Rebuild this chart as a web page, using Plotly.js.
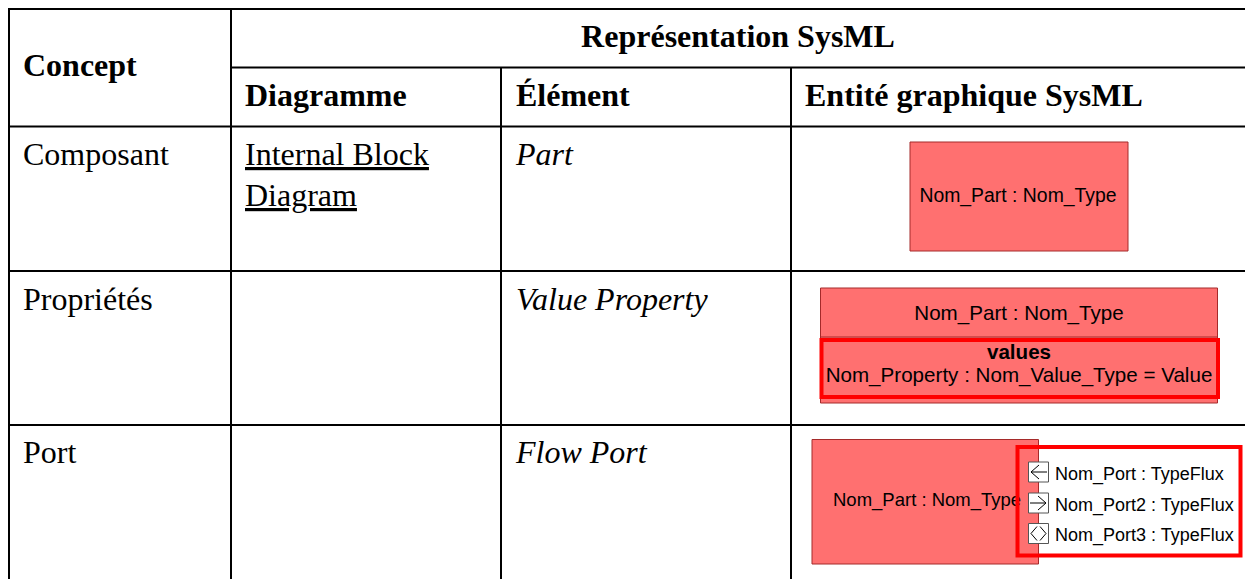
<!DOCTYPE html>
<html>
<head>
<meta charset="utf-8">
<script src="https://cdn.plot.ly/plotly-3.0.1.min.js"></script>
<style>html,body{margin:0;padding:0;background:#fff;overflow:hidden}#chart{width:1245px;height:579px}</style>
</head>
<body>
<div id="chart"></div>
<script>
// ---- text content of the table ----
const topHeader = 'Représentation SysML';
const conceptHeader = 'Concept';
const subHeaders = ['Diagramme', 'Élément', 'Entité graphique SysML'];
const concepts = ['Composant', 'Propriétés', 'Port'];
const diagramLines = ['Internal Block', 'Diagram'];
const elements = ['Part', 'Value Property', 'Flow Port'];
const partLabel = 'Nom_Part : Nom_Type';
const valuesTitle = 'values';
const valueLine = 'Nom_Property : Nom_Value_Type = Value';
const portLabels = ['Nom_Port : TypeFlux', 'Nom_Port2 : TypeFlux', 'Nom_Port3 : TypeFlux'];

// ---- page geometry (pixel grid used by the axes) ----
const W = 1245, H = 579;
const colX = [9, 231, 501, 791];
const rowY = [9, 67.5, 126.5, 271, 425];
const textX = [23, 245, 516, 805];
const rowTextY = [157, 302, 455];
const SERIF = '"Liberation Serif", serif', SANS = '"Liberation Sans", Arial, sans-serif';
const FILL = '#ff7070', EDGE = '#a52a2a', RED = '#ff0000';

function line(x0, y0, x1, y1, color, width, layer) {
  return {type:'line', xref:'x', yref:'y', x0, y0, x1, y1, layer:layer||'below', line:{color, width}};
}
function rect(x0, y0, x1, y1, fill, color, width, layer) {
  return {type:'rect', xref:'x', yref:'y', x0, y0, x1, y1, layer:layer||'below', fillcolor:fill, line:{color, width}};
}
function label(x, y, text, family, size, position) {
  return {type:'scatter', mode:'text', x:[x], y:[y], text:[text], textposition:position||'middle right',
    textfont:{family, size, color:'#000'}, hoverinfo:'skip', showlegend:false, cliponaxis:false};
}

const shapes = [];
// table grid
[0, 2, 3, 4].forEach(i => shapes.push(line(colX[0], rowY[i], W, rowY[i], '#000', 2)));
shapes.push(line(colX[1], rowY[1], W, rowY[1], '#000', 2));
shapes.push(line(colX[0], rowY[0]-1, colX[0], H, '#000', 2));
shapes.push(line(colX[1], rowY[0], colX[1], H, '#000', 2));
shapes.push(line(colX[2], rowY[1], colX[2], H, '#000', 2));
shapes.push(line(colX[3], rowY[1], colX[3], H, '#000', 2));
// part block
shapes.push(rect(910, 142, 1128, 251, FILL, EDGE, 1));
// value-property block
shapes.push(rect(820.5, 288, 1217.5, 403, FILL, EDGE, 1));
shapes.push(line(820.5, 337, 1217.5, 337, EDGE, 1));
shapes.push(rect(821.5, 340, 1218, 397, 'rgba(0,0,0,0)', RED, 4, 'above'));
// flow-port block
shapes.push(rect(812, 439.5, 1038.5, 564, FILL, EDGE, 1));
shapes.push(rect(1017.5, 447, 1240.5, 555.5, 'rgba(0,0,0,0)', RED, 4, 'above'));
// port squares and glyphs
[[462, 'left'], [493, 'right'], [523.5, 'both']].forEach(([top, kind]) => {
  shapes.push(rect(1028.5, top, 1048.5, top+20, '#fff', '#555', 1));
  const m = top+10;
  if (kind === 'left') {
    shapes.push(line(1031, m, 1047, m, '#000', 1));
    shapes.push(line(1031, m, 1039, m-7, '#000', 1));
    shapes.push(line(1031, m, 1039, m+7, '#000', 1));
  } else if (kind === 'right') {
    shapes.push(line(1030, m, 1046, m, '#000', 1));
    shapes.push(line(1046, m, 1038, m-7, '#000', 1));
    shapes.push(line(1046, m, 1038, m+7, '#000', 1));
  } else {
    shapes.push(line(1031, m, 1037, m-7, '#000', 1));
    shapes.push(line(1031, m, 1037, m+7, '#000', 1));
    shapes.push(line(1046, m, 1040, m-7, '#000', 1));
    shapes.push(line(1046, m, 1040, m+7, '#000', 1));
  }
});

const data = [
  label(738, 39, '<b>'+topHeader+'</b>', SERIF, 32, 'middle center'),
  label(textX[0], 68, '<b>'+conceptHeader+'</b>', SERIF, 32),
  label(1018, 197, partLabel, SANS, 19.4, 'middle center'),
  label(1019, 315, partLabel, SANS, 20.6, 'middle center'),
  label(1019, 354, '<b>'+valuesTitle+'</b>', SANS, 20.6, 'middle center'),
  label(1019, 377, valueLine, SANS, 20.6, 'middle center'),
  label(833, 501, partLabel, SANS, 18.5),
  label(1055, 475, portLabels[0], SANS, 18),
  label(1055, 506, portLabels[1], SANS, 18),
  label(1055, 536, portLabels[2], SANS, 18),
  label(textX[1], 157, '<u>'+diagramLines[0]+'</u>', SERIF, 32),
  label(textX[1], 198, '<u>'+diagramLines[1]+'</u>', SERIF, 32)
];
subHeaders.forEach((t, i) => data.push(label(textX[i+1], 98, '<b>'+t+'</b>', SERIF, 32)));
concepts.forEach((t, i) => data.push(label(textX[0], rowTextY[i], t, SERIF, 32)));
elements.forEach((t, i) => data.push(label(textX[2], rowTextY[i], '<i>'+t+'</i>', SERIF, 32)));

const layout = {
  width: W, height: H,
  margin: {l:0, r:0, t:0, b:0, pad:0},
  paper_bgcolor: '#fff', plot_bgcolor: '#fff',
  showlegend: false, hovermode: false, dragmode: false,
  xaxis: {range:[0, W], visible:false, fixedrange:true},
  yaxis: {range:[H, 0], visible:false, fixedrange:true},
  shapes
};
Plotly.newPlot('chart', data, layout, {displayModeBar:false, staticPlot:true});
</script>
</body>
</html>
